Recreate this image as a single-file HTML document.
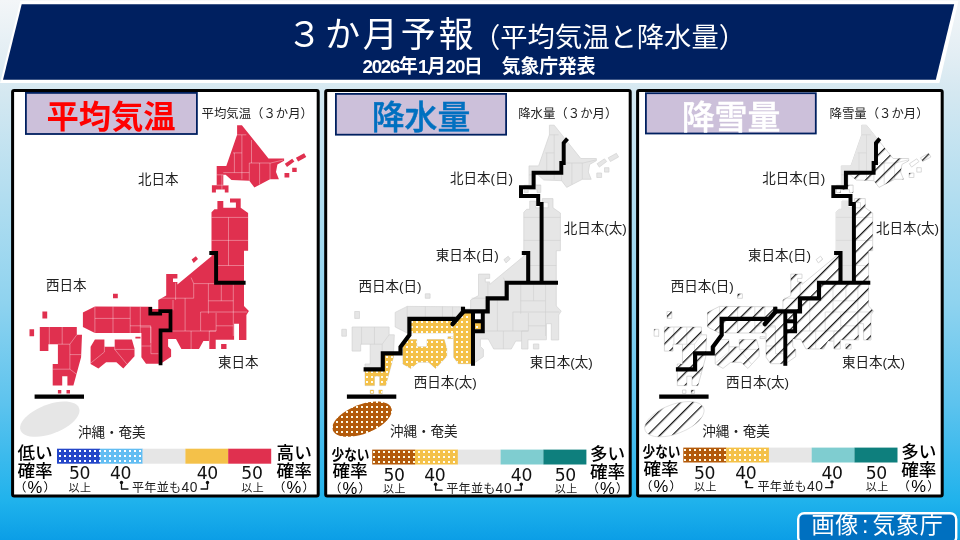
<!DOCTYPE html><html lang="ja"><head><meta charset="utf-8"><title>３か月予報</title><style>
html,body{margin:0;padding:0}
body{width:960px;height:540px;overflow:hidden;position:relative;
 background:linear-gradient(to bottom,#f3f6f8 0%,#e3eef4 10%,#d5e8f1 17%,#8fd3ef 56%,#5cc3ee 75%,#1fb2ec 93%,#0b9ee6 100%);
 font-family:"Liberation Sans","Noto Sans CJK JP",sans-serif;color:#111}
.art{position:absolute;left:0;top:0}
.t{position:absolute;white-space:nowrap;line-height:1;margin:0}
.g{font-family:"Liberation Sans","Noto Sans CJK JP",sans-serif;font-weight:400;color:#222}
.title{color:#fff;font-size:35px;left:287px;top:17px;letter-spacing:2.9px}
.title small{font-size:27.3px;letter-spacing:0;margin-left:-3.5px}
.sub{color:#fff;font-size:18.8px;font-weight:700;left:362.5px;top:57.5px}
.sub b{letter-spacing:-1.3px;font-weight:700}
.lab{font-size:32.3px;font-weight:700;width:172px;text-align:center;top:101px}
.cap{font-size:12.4px;top:107px}
.rg{font-size:13.5px}
.lg{font-size:17.6px;color:#000;font-weight:500}
.pc{font-size:16.6px;font-weight:400;letter-spacing:1.2px;line-height:17px}
.pc span{font-size:12.2px;vertical-align:1.4px;line-height:12px}
.n{font-family:"DejaVu Sans","Liberation Sans",sans-serif;font-size:17.2px;color:#111;letter-spacing:-.4px}
.s{font-size:11px;color:#222;letter-spacing:.5px}
.m{font-size:12.1px;color:#222;line-height:14px;letter-spacing:.25px}
.m .d{font-size:13.8px;letter-spacing:.7px;line-height:14px}
.badge{color:#fff;font-size:23px;left:811.5px;top:513.5px;letter-spacing:.7px}
.badge i{font-style:normal;padding:0 3.2px}
</style></head><body><svg class="art" width="960" height="540" viewBox="0 0 960 540"><defs>
<path id="jp" d="M237.1 125.2 L241.9 125.2 L268.5 158.5 L284.1 158.5 L284.1 160.7 L277.4 164.4 L276 172 L278.9 179.3 L270 179.3 L254.4 187.4 L249.3 180.7 L231.5 180 L225.6 174.8 L223.3 174.8 L223.3 185.2 L228.5 185.2 L228.5 192.6 L224.8 192.6 L224.8 189.6 L215.9 189.6 L215.9 192.6 L211.9 192.6 L211.9 185.2 L216.7 185.2 L216.7 165.9 L226.3 165.9 L237.1 134.8 Z M295.9 157.8 L304.1 153.3 L306.3 157 L298.1 161.5 Z M284.8 163.7 L292.2 158.8 L294.4 161.5 L287 167.1 Z M217.4 201.1 L223.3 201.1 L223.3 207.8 L235.9 207.8 L235.9 202.6 L230 202.6 L230 198.6 L240.7 198.6 L240.7 207.8 L248.1 213 L248.1 250.7 L244 250.7 L244 306 L248.9 311.1 L246.4 315 L246.4 340 L239 340 L239 323.7 L234.1 323.7 L234.1 339.8 L215.7 339.8 L215.7 349 L209.3 349 L209.3 341.1 L203.4 341.1 L199 349 L181.4 349 L176 339.1 L168.1 339.1 L168.1 346.5 L171.1 349.4 L171.1 356.7 L162.5 362.6 L161 363.7 L146 363.7 L141.4 357.2 L141.4 333 L94.9 333 L82.9 327 L82.9 312.4 L94.9 306.4 L152 306.8 L152 309 L158.3 309 L158.3 300 L166.2 295.6 L166.2 274.1 L177.4 274.1 L177.4 278.4 L173 278.4 L173 281.9 L177.4 281.9 L177.4 284.4 L212.7 255.2 L211.5 256 L211.5 212.2 L214.4 209.3 L217.4 209.3 Z M94.9 339.6 L104.4 339.6 L104.4 346.8 L114.7 346.8 L114.7 339.6 L131.9 339.6 L134.5 348.6 L134.5 356.3 L123.3 368.4 L116.4 362.3 L106.1 362.3 L98.4 368.4 L90.6 364 L90.6 346.8 Z M39.8 327 L76.8 327 L76.8 334.8 L82 334.8 L81.1 357.2 L73.4 385.6 L67.4 385.6 L67.4 376.2 L62.2 376.2 L62.2 385.6 L52.7 385.6 L52.7 364 L57.9 364 L57.9 344.2 L48.4 344.2 L48.4 351.1 L39.8 351.1 Z M191.6 259.6 L195.9 256.2 L198 259 L193.7 262.9 Z M292.2 167.7 L296.7 167.7 L296.7 172.1 L292.2 172.1 Z M284.5 173 L289.3 173 L289.3 177.5 L284.5 177.5 Z M135.4 336.8 L140.5 336.8 L140.5 338.6 L135.4 338.6 Z M113 293.8 L117.8 293.8 L117.8 298.3 L113 298.3 Z M42.4 311.5 L47.2 311.5 L47.2 318.4 L42.4 318.4 Z M29.5 329.3 L34.1 329.3 L34.1 336.2 L29.5 336.2 Z M57.9 390 L61.3 390 L61.3 393.4 L57.9 393.4 Z M66.5 390 L70 390 L70 393.4 L66.5 393.4 Z M221.1 344 L226.5 344 L226.5 349 L221.1 349 Z"/>
<clipPath id="cjp"><use href="#jp"/></clipPath>
<clipPath id="cbox"><rect x="162.4" y="322.7" width="6.4" height="6.6"/></clipPath>
<clipPath id="cell"><path d="M79 408 L79.5 409.9 L79.4 411.9 L78.8 414.1 L77.7 416.3 L76.2 418.6 L74.2 420.9 L71.7 423.2 L68.9 425.4 L65.8 427.5 L62.4 429.5 L58.8 431.2 L55 432.8 L51.2 434.2 L47.3 435.3 L43.5 436.1 L39.7 436.6 L36.2 436.8 L32.8 436.8 L29.8 436.4 L27.1 435.7 L24.8 434.8 L22.9 433.6 L21.5 432.1 L20.6 430.4 L20.1 428.5 L20.2 426.5 L20.8 424.3 L21.9 422.1 L23.4 419.8 L25.4 417.5 L27.9 415.2 L30.7 413 L33.8 410.9 L37.2 408.9 L40.8 407.2 L44.6 405.6 L48.4 404.2 L52.3 403.1 L56.1 402.3 L59.9 401.8 L63.4 401.6 L66.8 401.6 L69.8 402 L72.5 402.7 L74.8 403.6 L76.7 404.8 L78.1 406.3 Z"/></clipPath>
<clipPath id="zA"><path d="M200 110 L254.7 110 L254.7 139 L251.4 143 L251.4 163 L249 163 L249 172.7 L221.3 172.7 L221.3 187.3 L208.7 187.3 L208.7 196 L225.9 196 L225.9 204 L229.3 204 L229.3 282.7 L215.9 282.7 L215.9 253 L200 253 Z"/></clipPath>
<clipPath id="zF"><path d="M150.7 312.5 L145 318.8 L97.1 318.8 L97.1 335 L88.2 347 L88.2 353.3 L70.5 353.3 L70.5 369.4 L51.3 369.4 L15 369.4 L15 400 L160.7 400 L160.7 311.3 L150.7 311.3 Z"/></clipPath>
<clipPath id="zNotA"><path clip-rule="evenodd" d="M0 100 H330 V440 H0 Z M200 110 L254.7 110 L254.7 139 L251.4 143 L251.4 163 L249 163 L249 172.7 L221.3 172.7 L221.3 187.3 L208.7 187.3 L208.7 196 L225.9 196 L225.9 204 L229.3 204 L229.3 282.7 L215.9 282.7 L215.9 253 L200 253 Z"/></clipPath>
<pattern id="dotY" x="-2" y="0" width="5" height="5" patternUnits="userSpaceOnUse"><rect width="5" height="5" fill="#f4c149"/><rect x="1" y="1" width="2" height="2" fill="#fffdf0"/></pattern>
<pattern id="dotB" x="-2" y="0" width="5" height="5" patternUnits="userSpaceOnUse"><rect width="5" height="5" fill="#b35a0a"/><rect x="1" y="1" width="2" height="2" fill="#fffbe6"/></pattern>
<pattern id="lgB" x="0" y="1" width="5" height="5" patternUnits="userSpaceOnUse"><rect width="5" height="5" fill="#b35a0a"/><rect x="1" y="1" width="2" height="2" fill="#fffbe6"/></pattern>
<pattern id="lgY" x="0" y="1" width="5" height="5" patternUnits="userSpaceOnUse"><rect width="5" height="5" fill="#f4c149"/><rect x="1" y="1" width="2" height="2" fill="#fffdf0"/></pattern>
<pattern id="lgDB" x="1" y="1" width="5" height="5" patternUnits="userSpaceOnUse"><rect width="5" height="5" fill="#2446c8"/><rect x="1" y="1" width="2" height="2" fill="#fff"/></pattern>
<pattern id="lgLB" x="1" y="1" width="5" height="5" patternUnits="userSpaceOnUse"><rect width="5" height="5" fill="#62bdf2"/><rect x="1" y="1" width="2" height="2" fill="#fff"/></pattern>
<pattern id="hatch" width="8.77" height="8.77" patternUnits="userSpaceOnUse" patternTransform="translate(10.8 0) rotate(-45)"><rect y="0.1" width="8.77" height="1.15" fill="#000"/></pattern>
</defs><polygon points="20.4,0.8 958.5,0.8 939.4,83.1 0,83.1" fill="#fff"/><polygon points="21.7,4.2 954.2,4.2 935.8,79.7 3,79.7" fill="#002060"/><rect x="12.6" y="90.5" width="305.6" height="405.4" rx="1.5" fill="#fff" stroke="#000" stroke-width="3"/><rect x="325.7" y="90.5" width="304.5" height="405.4" rx="1.5" fill="#fff" stroke="#000" stroke-width="3"/><rect x="637.6" y="90.5" width="304.6" height="405.4" rx="1.5" fill="#fff" stroke="#000" stroke-width="3"/><rect x="25.9" y="92.9" width="171" height="41.1" fill="#ccc0da" stroke="#002060" stroke-width="1.8"/><rect x="335.9" y="93.9" width="170.2" height="40.8" fill="#ccc0da" stroke="#002060" stroke-width="1.8"/><rect x="645.9" y="93.2" width="169.9" height="40.3" fill="#ccc0da" stroke="#002060" stroke-width="1.8"/><g><use href="#jp" fill="#e0304f"/><path d="M237.1 134.8 L246.3 134.8 M241.9 134.8 L241.9 179.3 M251.5 140 L251.5 163 M233 152.9 L241.9 152.9 M234.4 152.9 L234.4 172.6 M223.3 172.6 L249.3 172.6 M249.3 163 L270.7 163 L283.3 160 M249.3 163 L249.3 180.7 M259.6 163 L259.6 184.4 M270 163 L270 179.3 M221.9 174.8 L221.9 189.6 M216.7 174.8 L223.3 174.8 M216.7 185.2 L228.5 185.2 M211.5 217.4 L248.1 217.4 M228.5 217.4 L228.5 265.5 M211.5 240.4 L248.1 240.4 M215.2 265.5 L244 265.5 M191.1 277.6 L193.7 283.6 L214.4 283.6 M193.7 283.6 L193.7 298.2 M208.4 283.6 L208.4 313.7 M208.4 300.8 L233.3 300.8 M221.3 284.4 L221.3 300.8 M233.3 284.4 L233.3 336 M200.6 312 L247 312 M200.6 312 L200.6 331 M216.1 312.9 L216.1 331 L209.3 331 L209.3 341 M216.1 325.8 L233.3 325.8 M172.2 331 L216.1 331 M191.1 331 L191.1 349 M175.6 282.7 L175.6 300 M159.3 298.2 L193.7 298.2 M185.1 298.2 L185.1 331 M173 300 L173 310.3 M140.3 306.8 L140.3 333 M130 325.8 L150.7 325.8 L150.7 343 M94.9 306.4 L94.9 333 M113 306.4 L113 333 M130.2 306.4 L130.2 333 M94.9 318.4 L130.2 318.4 M140.5 327 L150.9 327 L150.9 353.7 L158.5 353.7 M141.4 346 L150.9 346 M114.7 349.4 L134.5 349.4 M114.7 346.8 L114.7 349.4 L126.8 364 M104.4 346.8 L104.4 352 L90.6 363.2 M49.3 327 L49.3 344.2 M62.2 327 L62.2 344.2 M76.8 334.8 L69.9 344.2 L69.9 369.2 M69.9 354.6 L81 354.6 M52.7 369.2 L69.9 369.2 L76.8 374.4 M57.9 344.2 L69.9 344.2" fill="none" stroke="#fff" stroke-opacity=".4" stroke-width=".9"/><path d="M209.3 253 L216.1 253 L216.1 282.7 L245.6 282.7" fill="none" stroke="#000" stroke-width="3.95" stroke-linejoin="miter" stroke-linecap="butt"/><path d="M150.3 306.9 L150.3 313.5 L160.2 313.5 L160.2 311 L170.5 311 L170.5 330.4 L160.55 330.4 L160.55 365.3" fill="none" stroke="#000" stroke-width="3.75" stroke-linejoin="miter" /><path d="M34.6 396.6 L84 396.6" fill="none" stroke="#000" stroke-width="4.15" stroke-linejoin="miter" /><path d="M79 408 L79.5 409.9 L79.4 411.9 L78.8 414.1 L77.7 416.3 L76.2 418.6 L74.2 420.9 L71.7 423.2 L68.9 425.4 L65.8 427.5 L62.4 429.5 L58.8 431.2 L55 432.8 L51.2 434.2 L47.3 435.3 L43.5 436.1 L39.7 436.6 L36.2 436.8 L32.8 436.8 L29.8 436.4 L27.1 435.7 L24.8 434.8 L22.9 433.6 L21.5 432.1 L20.6 430.4 L20.1 428.5 L20.2 426.5 L20.8 424.3 L21.9 422.1 L23.4 419.8 L25.4 417.5 L27.9 415.2 L30.7 413 L33.8 410.9 L37.2 408.9 L40.8 407.2 L44.6 405.6 L48.4 404.2 L52.3 403.1 L56.1 402.3 L59.9 401.8 L63.4 401.6 L66.8 401.6 L69.8 402 L72.5 402.7 L74.8 403.6 L76.7 404.8 L78.1 406.3 Z" fill="#e6e6e6"/></g><g transform="translate(312.3 0)"><use href="#jp" fill="#e6e6e6" stroke="#d2d2d2" stroke-width=".7"/><path d="M237.1 134.8 L246.3 134.8 M241.9 134.8 L241.9 179.3 M251.5 140 L251.5 163 M233 152.9 L241.9 152.9 M234.4 152.9 L234.4 172.6 M223.3 172.6 L249.3 172.6 M249.3 163 L270.7 163 L283.3 160 M249.3 163 L249.3 180.7 M259.6 163 L259.6 184.4 M270 163 L270 179.3 M221.9 174.8 L221.9 189.6 M216.7 174.8 L223.3 174.8 M216.7 185.2 L228.5 185.2 M211.5 217.4 L248.1 217.4 M228.5 217.4 L228.5 265.5 M211.5 240.4 L248.1 240.4 M215.2 265.5 L244 265.5 M191.1 277.6 L193.7 283.6 L214.4 283.6 M193.7 283.6 L193.7 298.2 M208.4 283.6 L208.4 313.7 M208.4 300.8 L233.3 300.8 M221.3 284.4 L221.3 300.8 M233.3 284.4 L233.3 336 M200.6 312 L247 312 M200.6 312 L200.6 331 M216.1 312.9 L216.1 331 L209.3 331 L209.3 341 M216.1 325.8 L233.3 325.8 M172.2 331 L216.1 331 M191.1 331 L191.1 349 M175.6 282.7 L175.6 300 M159.3 298.2 L193.7 298.2 M185.1 298.2 L185.1 331 M173 300 L173 310.3 M140.3 306.8 L140.3 333 M130 325.8 L150.7 325.8 L150.7 343 M94.9 306.4 L94.9 333 M113 306.4 L113 333 M130.2 306.4 L130.2 333 M94.9 318.4 L130.2 318.4 M140.5 327 L150.9 327 L150.9 353.7 L158.5 353.7 M141.4 346 L150.9 346 M114.7 349.4 L134.5 349.4 M114.7 346.8 L114.7 349.4 L126.8 364 M104.4 346.8 L104.4 352 L90.6 363.2 M49.3 327 L49.3 344.2 M62.2 327 L62.2 344.2 M76.8 334.8 L69.9 344.2 L69.9 369.2 M69.9 354.6 L81 354.6 M52.7 369.2 L69.9 369.2 L76.8 374.4 M57.9 344.2 L69.9 344.2" fill="none" stroke="#cfcfcf" stroke-width=".6"/><g clip-path="url(#zF)"><g clip-path="url(#cjp)"><rect transform="translate(-0.3 0)" x="10" y="300" width="170" height="100" fill="url(#dotY)"/></g></g><rect x="162.4" y="313" width="6.4" height="6.2" fill="#fff"/><g clip-path="url(#cbox)"><rect transform="translate(-0.3 0)" x="160" y="320" width="12" height="12" fill="url(#dotY)"/></g><path d="M255.2 138.6 L251.4 143 L251.4 163 L249 163 L249 172.7 L221.3 172.7 L221.3 187.3 L208.7 187.3 L208.7 196 L225.9 196 L225.9 204 L229.3 204 L229.3 282.7" fill="none" stroke="#000" stroke-width="3.95" stroke-linejoin="miter" /><path d="M209.5 253 L215.9 253 L215.9 282.7" fill="none" stroke="#000" stroke-width="4.05" stroke-linejoin="miter" /><path d="M245.7 282.7 L194.4 282.7 L194.4 298.3 L175.4 298.3 L175.4 311.3 L150.7 311.3 L150.7 306.8" fill="none" stroke="#000" stroke-width="4.15" stroke-linejoin="miter" /><path d="M150.7 312 L140.3 324" fill="none" stroke="#000" stroke-width="4.55" stroke-linejoin="miter" stroke-linecap="round"/><path d="M143.5 318.8 L97.1 318.8 L97.1 335 L88.2 347 L88.2 353.3 L70.5 353.3 L70.5 369.4 L51.3 369.4" fill="none" stroke="#000" stroke-width="4.15" stroke-linejoin="miter" /><path d="M160.7 311.3 L160.7 365.8" fill="none" stroke="#000" stroke-width="3.95" stroke-linejoin="miter" /><path d="M170.5 311.3 L170.5 331.3 L160.7 331.3" fill="none" stroke="#000" stroke-width="3.95" stroke-linejoin="miter" /><path d="M160.7 321.3 L170.5 321.3" fill="none" stroke="#000" stroke-width="3.95" stroke-linejoin="miter" /><path d="M34.6 396.6 L84 396.6" fill="none" stroke="#000" stroke-width="4.15" stroke-linejoin="miter" /><g clip-path="url(#cell)"><rect transform="translate(-0.3 0)" x="10" y="395" width="80" height="50" fill="url(#dotB)"/></g></g><g transform="translate(624.6 0)"><use href="#jp" fill="#fff" stroke="#cfcfcf" stroke-width=".8"/><use href="#jp" fill="#e6e6e6" clip-path="url(#zA)"/><path d="M237.1 134.8 L246.3 134.8 M241.9 134.8 L241.9 179.3 M251.5 140 L251.5 163 M233 152.9 L241.9 152.9 M234.4 152.9 L234.4 172.6 M223.3 172.6 L249.3 172.6 M249.3 163 L270.7 163 L283.3 160 M249.3 163 L249.3 180.7 M259.6 163 L259.6 184.4 M270 163 L270 179.3 M221.9 174.8 L221.9 189.6 M216.7 174.8 L223.3 174.8 M216.7 185.2 L228.5 185.2 M211.5 217.4 L248.1 217.4 M228.5 217.4 L228.5 265.5 M211.5 240.4 L248.1 240.4 M215.2 265.5 L244 265.5 M191.1 277.6 L193.7 283.6 L214.4 283.6 M193.7 283.6 L193.7 298.2 M208.4 283.6 L208.4 313.7 M208.4 300.8 L233.3 300.8 M221.3 284.4 L221.3 300.8 M233.3 284.4 L233.3 336 M200.6 312 L247 312 M200.6 312 L200.6 331 M216.1 312.9 L216.1 331 L209.3 331 L209.3 341 M216.1 325.8 L233.3 325.8 M172.2 331 L216.1 331 M191.1 331 L191.1 349 M175.6 282.7 L175.6 300 M159.3 298.2 L193.7 298.2 M185.1 298.2 L185.1 331 M173 300 L173 310.3 M140.3 306.8 L140.3 333 M130 325.8 L150.7 325.8 L150.7 343 M94.9 306.4 L94.9 333 M113 306.4 L113 333 M130.2 306.4 L130.2 333 M94.9 318.4 L130.2 318.4 M140.5 327 L150.9 327 L150.9 353.7 L158.5 353.7 M141.4 346 L150.9 346 M114.7 349.4 L134.5 349.4 M114.7 346.8 L114.7 349.4 L126.8 364 M104.4 346.8 L104.4 352 L90.6 363.2 M49.3 327 L49.3 344.2 M62.2 327 L62.2 344.2 M76.8 334.8 L69.9 344.2 L69.9 369.2 M69.9 354.6 L81 354.6 M52.7 369.2 L69.9 369.2 L76.8 374.4 M57.9 344.2 L69.9 344.2" fill="none" stroke="#d6d6d6" stroke-width=".7"/><g clip-path="url(#zNotA)"><use href="#jp" fill="url(#hatch)"/></g><path d="M255.2 138.6 L251.4 143 L251.4 163 L249 163 L249 172.7 L221.3 172.7 L221.3 187.3 L208.7 187.3 L208.7 196 L225.9 196 L225.9 204 L229.3 204 L229.3 282.7" fill="none" stroke="#000" stroke-width="3.95" stroke-linejoin="miter" /><path d="M209.5 253 L215.9 253 L215.9 282.7" fill="none" stroke="#000" stroke-width="4.05" stroke-linejoin="miter" /><path d="M245.7 282.7 L194.4 282.7 L194.4 298.3 L175.4 298.3 L175.4 311.3 L150.7 311.3 L150.7 306.8" fill="none" stroke="#000" stroke-width="4.15" stroke-linejoin="miter" /><path d="M150.7 312 L140.3 324" fill="none" stroke="#000" stroke-width="4.55" stroke-linejoin="miter" stroke-linecap="round"/><path d="M143.5 318.8 L97.1 318.8 L97.1 335 L88.2 347 L88.2 353.3 L70.5 353.3 L70.5 369.4 L51.3 369.4" fill="none" stroke="#000" stroke-width="4.15" stroke-linejoin="miter" /><path d="M160.7 311.3 L160.7 365.8" fill="none" stroke="#000" stroke-width="3.95" stroke-linejoin="miter" /><path d="M170.5 311.3 L170.5 331.3 L160.7 331.3" fill="none" stroke="#000" stroke-width="3.95" stroke-linejoin="miter" /><path d="M160.7 321.3 L170.5 321.3" fill="none" stroke="#000" stroke-width="3.95" stroke-linejoin="miter" /><path d="M34.6 396.6 L84 396.6" fill="none" stroke="#000" stroke-width="4.15" stroke-linejoin="miter" /><path d="M79 408 L79.5 409.9 L79.4 411.9 L78.8 414.1 L77.7 416.3 L76.2 418.6 L74.2 420.9 L71.7 423.2 L68.9 425.4 L65.8 427.5 L62.4 429.5 L58.8 431.2 L55 432.8 L51.2 434.2 L47.3 435.3 L43.5 436.1 L39.7 436.6 L36.2 436.8 L32.8 436.8 L29.8 436.4 L27.1 435.7 L24.8 434.8 L22.9 433.6 L21.5 432.1 L20.6 430.4 L20.1 428.5 L20.2 426.5 L20.8 424.3 L21.9 422.1 L23.4 419.8 L25.4 417.5 L27.9 415.2 L30.7 413 L33.8 410.9 L37.2 408.9 L40.8 407.2 L44.6 405.6 L48.4 404.2 L52.3 403.1 L56.1 402.3 L59.9 401.8 L63.4 401.6 L66.8 401.6 L69.8 402 L72.5 402.7 L74.8 403.6 L76.7 404.8 L78.1 406.3 Z" fill="url(#hatch)" stroke="#ccc" stroke-width=".6"/></g><g transform="translate(57 448)"><rect x="0" y="0.7" width="43" height="15" fill="url(#lgDB)"/><rect x="42.8" y="0.7" width="43" height="15" fill="url(#lgLB)"/><rect x="85.6" y="0.7" width="43" height="15" fill="#e6e6e6"/><rect x="128.4" y="0.7" width="43" height="15" fill="#f4c149"/><rect x="171.2" y="0.7" width="43" height="15" fill="#e0304f"/></g><g transform="translate(372 449)"><rect x="0.2" y="0.6" width="43" height="14.9" fill="url(#lgB)"/><rect x="43" y="0.6" width="43" height="14.9" fill="url(#lgY)"/><rect x="85.8" y="0.6" width="43" height="14.9" fill="#e6e6e6"/><rect x="128.6" y="0.6" width="43" height="14.9" fill="#7fcdd0"/><rect x="171.4" y="0.6" width="43" height="14.9" fill="#0e7f7d"/></g><g transform="translate(683 447)"><rect x="0.3" y="0.6" width="43" height="14.9" fill="url(#lgB)"/><rect x="43.1" y="0.6" width="43" height="14.9" fill="url(#lgY)"/><rect x="85.9" y="0.6" width="43" height="14.9" fill="#e6e6e6"/><rect x="128.7" y="0.6" width="43" height="14.9" fill="#7fcdd0"/><rect x="171.5" y="0.6" width="43" height="14.9" fill="#0e7f7d"/></g><g fill="none" stroke="#111" stroke-width="1.3" stroke-linejoin="round" stroke-linecap="round"><path d="M121.5 482.5 V489 H128"/><path d="M207.5 482.5 V489 H201"/></g><circle cx="121.5" cy="482.5" r="1.7" fill="#111"/><circle cx="207.5" cy="482.5" r="1.7" fill="#111"/><g fill="none" stroke="#111" stroke-width="1.3" stroke-linejoin="round" stroke-linecap="round"><path d="M435.6 484.2 V490.2 H442.1"/><path d="M521.3 484.2 V490.2 H514.8"/></g><circle cx="435.6" cy="484.2" r="1.7" fill="#111"/><circle cx="521.3" cy="484.2" r="1.7" fill="#111"/><g fill="none" stroke="#111" stroke-width="1.3" stroke-linejoin="round" stroke-linecap="round"><path d="M746.3 482 V487.6 H752.8"/><path d="M832 482 V487.6 H825.5"/></g><circle cx="746.3" cy="482" r="1.7" fill="#111"/><circle cx="832" cy="482" r="1.7" fill="#111"/><rect x="798.2" y="513.2" width="158" height="30" rx="6" fill="#0070c0" stroke="#fff" stroke-width="2.4"/></svg><div class="t title">３か月予報<small>（平均気温と降水量）</small></div><div class="t sub"><b>2026</b>年<b>1</b>月<b>20</b>日　気象庁発表</div><div class="t lab" style="left:25px;color:#f00">平均気温</div><div class="t lab" style="left:335px;color:#0070c0;font-weight:500;font-size:32.9px;top:102px;-webkit-text-stroke:.45px #0070c0">降水量</div><div class="t lab" style="left:645px;color:#fff;font-weight:500;font-size:32.9px;top:101.5px;-webkit-text-stroke:.45px #fff">降雪量</div><div class="t g cap" style="left:201.5px;top:107.5px;">平均気温（３か月）</div><div class="t g cap" style="left:518.2px;top:107.5px;">降水量（３か月）</div><div class="t g cap" style="left:829.5px;top:107.5px;">降雪量（３か月）</div><div class="t g rg" style="left:138px;top:172.5px;">北日本</div><div class="t g rg" style="left:46px;top:278.5px;">西日本</div><div class="t g rg" style="left:218px;top:355.5px;">東日本</div><div class="t g rg" style="left:78px;top:425.5px;">沖縄・奄美</div><div class="t g rg" style="left:450px;top:172.3px;">北日本(日)</div><div class="t g rg" style="left:563.7px;top:222.3px;">北日本(太)</div><div class="t g rg" style="left:435.8px;top:248.5px;">東日本(日)</div><div class="t g rg" style="left:358.5px;top:279.5px;">西日本(日)</div><div class="t g rg" style="left:529.8px;top:356.3px;">東日本(太)</div><div class="t g rg" style="left:413.8px;top:375.5px;">西日本(太)</div><div class="t g rg" style="left:390px;top:424.5px;">沖縄・奄美</div><div class="t g rg" style="left:762.2px;top:172.3px;">北日本(日)</div><div class="t g rg" style="left:875.9px;top:222.3px;">北日本(太)</div><div class="t g rg" style="left:748px;top:248.5px;">東日本(日)</div><div class="t g rg" style="left:670.7px;top:279.5px;">西日本(日)</div><div class="t g rg" style="left:842px;top:356.3px;">東日本(太)</div><div class="t g rg" style="left:726px;top:375.5px;">西日本(太)</div><div class="t g rg" style="left:702.2px;top:424.5px;">沖縄・奄美</div><div class="t lg" style="left:17.5px;top:444.5px;width:35px;text-align:center;">低い</div><div class="t lg" style="left:17.5px;top:462.6px;width:35px;text-align:center;">確率</div><div class="t lg pc" style="left:5.5px;top:479.2px;width:60px;text-align:center;"><span>（</span>%<span>）</span></div><div class="t lg" style="left:276.6px;top:444.5px;width:35px;text-align:center;">高い</div><div class="t lg" style="left:276.6px;top:462.6px;width:35px;text-align:center;">確率</div><div class="t lg pc" style="left:264.6px;top:479.2px;width:60px;text-align:center;"><span>（</span>%<span>）</span></div><div class="t n" style="left:64.6px;top:465.3px;width:30px;text-align:center;">50</div><div class="t n" style="left:105.5px;top:465.3px;width:30px;text-align:center;">40</div><div class="t n" style="left:192.2px;top:465.3px;width:30px;text-align:center;">40</div><div class="t n" style="left:236.9px;top:465.3px;width:30px;text-align:center;">50</div><div class="t g s" style="left:65px;top:482.8px;width:30px;text-align:center;">以上</div><div class="t g s" style="left:237.8px;top:482.8px;width:30px;text-align:center;">以上</div><div class="t g m" style="left:132px;top:481.3px;">平年並も<span class="d">40</span></div><div class="t lg" style="left:332.5px;top:446.7px;width:55px;text-align:center;font-size:15.2px;font-weight:700;transform:scaleX(.83);transform-origin:50% 0;margin-left:-10px">少ない</div><div class="t lg" style="left:332.5px;top:463.4px;width:35px;text-align:center;">確率</div><div class="t lg pc" style="left:320.5px;top:480px;width:60px;text-align:center;"><span>（</span>%<span>）</span></div><div class="t lg" style="left:590px;top:445.5px;width:35px;text-align:center;">多い</div><div class="t lg" style="left:590px;top:463.6px;width:35px;text-align:center;">確率</div><div class="t lg pc" style="left:578px;top:480.2px;width:60px;text-align:center;"><span>（</span>%<span>）</span></div><div class="t n" style="left:379.1px;top:466.6px;width:30px;text-align:center;">50</div><div class="t n" style="left:419.85px;top:466.6px;width:30px;text-align:center;">40</div><div class="t n" style="left:506.4px;top:466.6px;width:30px;text-align:center;">40</div><div class="t n" style="left:550.3px;top:466.6px;width:30px;text-align:center;">50</div><div class="t g s" style="left:379.4px;top:483.8px;width:30px;text-align:center;">以上</div><div class="t g s" style="left:551.25px;top:483.8px;width:30px;text-align:center;">以上</div><div class="t g m" style="left:446.2px;top:482.2px;">平年並も<span class="d">40</span></div><div class="t lg" style="left:643.5px;top:443.7px;width:55px;text-align:center;font-size:15.2px;font-weight:700;transform:scaleX(.83);transform-origin:50% 0;margin-left:-10px">少ない</div><div class="t lg" style="left:643.5px;top:461.4px;width:35px;text-align:center;">確率</div><div class="t lg pc" style="left:631.5px;top:478px;width:60px;text-align:center;"><span>（</span>%<span>）</span></div><div class="t lg" style="left:901.2px;top:443.5px;width:35px;text-align:center;">多い</div><div class="t lg" style="left:901.2px;top:461.6px;width:35px;text-align:center;">確率</div><div class="t lg pc" style="left:889.2px;top:478.2px;width:60px;text-align:center;"><span>（</span>%<span>）</span></div><div class="t n" style="left:689.5px;top:464.6px;width:30px;text-align:center;">50</div><div class="t n" style="left:730.8px;top:464.6px;width:30px;text-align:center;">40</div><div class="t n" style="left:817px;top:464.6px;width:30px;text-align:center;">40</div><div class="t n" style="left:861.25px;top:464.6px;width:30px;text-align:center;">50</div><div class="t g s" style="left:690.5px;top:481.7px;width:30px;text-align:center;">以上</div><div class="t g s" style="left:862.3px;top:481.7px;width:30px;text-align:center;">以上</div><div class="t g m" style="left:757.5px;top:480px;">平年並も<span class="d">40</span></div><div class="t badge">画像<i>:</i>気象庁</div></body></html>
